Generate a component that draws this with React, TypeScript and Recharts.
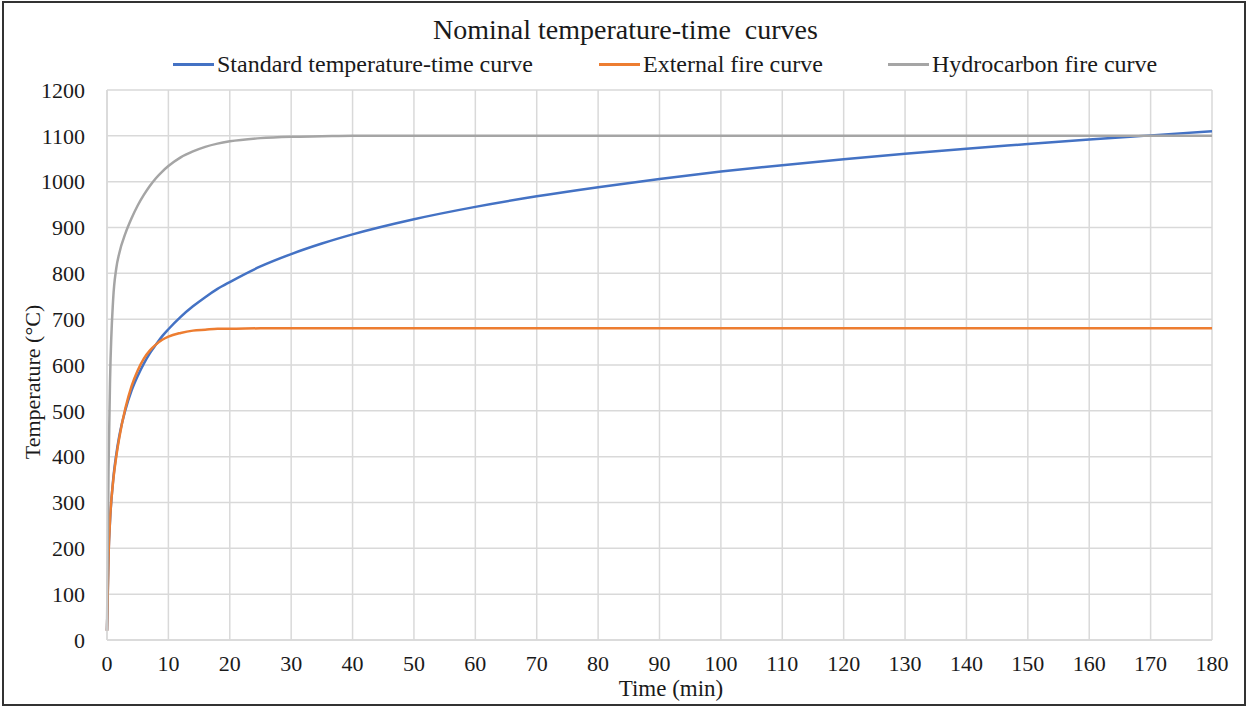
import React from "react";
import { LineChart, Line, XAxis, YAxis, CartesianGrid } from "recharts";

// time in minutes
const times = [0, 0.25, 0.5, 1, 1.5, 2, 3, 4, 5, 6, 7, 8, 9, 10, 12, 14, 16, 18, 20, 25, 30, 35, 40, 50, 60, 70, 80, 90, 100, 110, 120, 130, 140, 150, 160, 170, 180];

// temperatures in °C
const standardCurve = [20, 185, 261, 349, 404, 445, 502, 544, 576, 603, 626, 645, 663, 678, 705, 728, 748, 766, 781, 815, 842, 865, 885, 918, 945, 968, 988, 1006, 1022, 1036, 1049, 1061, 1072, 1082, 1092, 1101, 1110];
const externalCurve = [20, 182, 263, 346, 399, 441, 506, 554, 588, 614, 632, 645, 655, 662, 670, 675, 677, 679, 679, 680, 680, 680, 680, 680, 680, 680, 680, 680, 680, 680, 680, 680, 680, 680, 680, 680, 680];
const hydrocarbonCurve = [20, 373, 568, 743, 810, 844, 887, 920, 948, 971, 991, 1008, 1022, 1034, 1053, 1066, 1076, 1083, 1088, 1095, 1098, 1099, 1100, 1100, 1100, 1100, 1100, 1100, 1100, 1100, 1100, 1100, 1100, 1100, 1100, 1100, 1100];

const xTicks = [0, 10, 20, 30, 40, 50, 60, 70, 80, 90, 100, 110, 120, 130, 140, 150, 160, 170, 180];
const yTicks = [0, 100, 200, 300, 400, 500, 600, 700, 800, 900, 1000, 1100, 1200];

const series = [
  { key: "standard", name: "Standard temperature-time curve", color: "#4472C4" },
  { key: "external", name: "External fire curve", color: "#ED7D31" },
  { key: "hydrocarbon", name: "Hydrocarbon fire curve", color: "#A5A5A5" },
];

const data = times.map((t, i) => ({
  time: t,
  standard: standardCurve[i],
  external: externalCurve[i],
  hydrocarbon: hydrocarbonCurve[i],
}));

const FONT = '"Liberation Serif", "Times New Roman", serif';
const TEXT = "#1a1a1a";

// left edge of each legend entry
const legendLeft = [173, 599, 888];

export default function App() {
  return (
    <div style={{ position: "absolute", left: 0, top: 0, width: 1251, height: 709, background: "#fff", fontFamily: FONT, color: TEXT }}>
      <style>{`.recharts-cartesian-axis-tick-value, .recharts-text { font-family: ${FONT} !important; }`}</style>
      <div
        style={{
          position: "absolute", left: 2, top: 1, width: 1244, height: 705,
          border: "2px solid #333", boxSizing: "border-box",
        }}
      />
      <div
        style={{
          position: "absolute", left: 0, top: 14, width: 1251, textAlign: "center",
          fontSize: 28, lineHeight: "32px", whiteSpace: "pre",
        }}
      >
        {"Nominal temperature-time  curves"}
      </div>
      {series.map((s, i) => (
        <div
          key={s.key}
          style={{
            position: "absolute", left: legendLeft[i], top: 50, height: 28,
            display: "flex", alignItems: "center", fontSize: 24, whiteSpace: "nowrap",
          }}
        >
          <span style={{ display: "inline-block", width: 41, height: 3, background: s.color, marginRight: 3 }} />
          <span>{s.name}</span>
        </div>
      ))}
      <LineChart
        width={1251}
        height={709}
        data={data}
        margin={{ top: 90, right: 39, bottom: 39, left: 47 }}
        style={{ position: "absolute", left: 0, top: 0 }}
      >
        <CartesianGrid stroke="#d9d9d9" strokeWidth={1.5} />
        <XAxis
          dataKey="time"
          type="number"
          domain={[0, 180]}
          ticks={xTicks}
          interval={0}
          height={30}
          axisLine={{ stroke: "#d9d9d9", strokeWidth: 1.5 }}
          tickLine={false}
          tickSize={0}
          tickMargin={15}
          tick={{ fontSize: 22, fill: TEXT }}
        />
        <YAxis
          domain={[0, 1200]}
          ticks={yTicks}
          interval={0}
          width={60}
          axisLine={{ stroke: "#d9d9d9", strokeWidth: 1.5 }}
          tickLine={false}
          tickSize={0}
          tickMargin={22}
          tick={{ fontSize: 22, fill: TEXT }}
        />
        {series.map((s) => (
          <Line
            key={s.key}
            type="monotone"
            dataKey={s.key}
            name={s.name}
            stroke={s.color}
            strokeWidth={2.5}
            dot={false}
            isAnimationActive={false}
          />
        ))}
      </LineChart>
      <div
        style={{
          position: "absolute", left: 571, top: 681, width: 200, height: 16, textAlign: "center",
          fontSize: 23, lineHeight: "16px", whiteSpace: "nowrap",
        }}
      >
        Time (min)
      </div>
      <div
        style={{
          position: "absolute", left: 33 - 100, top: 382 - 13, width: 200, height: 26,
          textAlign: "center", fontSize: 22, lineHeight: "26px",
          transform: "rotate(-90deg)", whiteSpace: "nowrap",
        }}
      >
        Temperature (°C)
      </div>
    </div>
  );
}
